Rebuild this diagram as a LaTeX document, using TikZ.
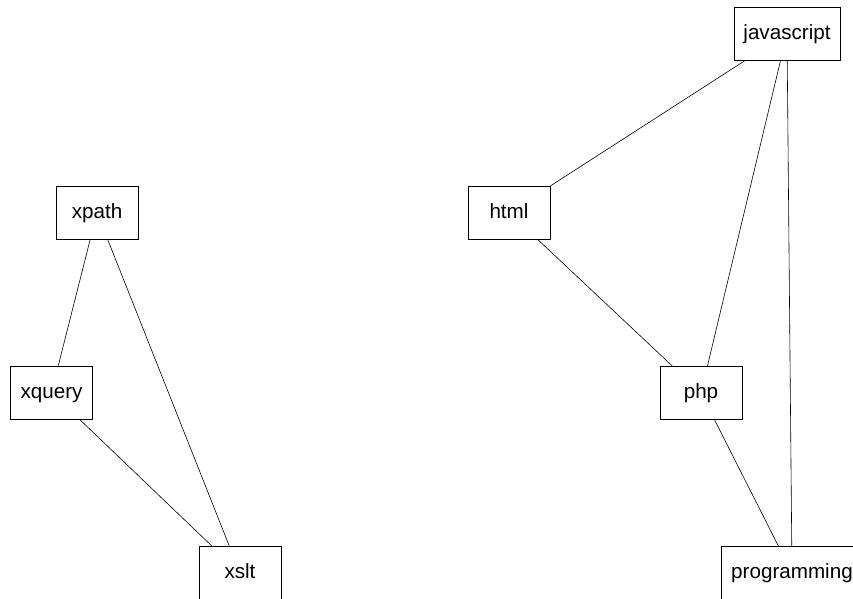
\documentclass[tikz,border=0pt]{standalone}
\usepackage{fontspec}
\setmainfont{Liberation Sans}
\tikzset{
    term/.style={draw, line width=0.6pt, minimum width=2.165cm, minimum height=1.4cm, inner xsep=0.25cm, text height=0.85em, text depth=0pt, font=\fontsize{15.5}{18}\selectfont},
    link/.style={line width=0.45pt}
}
\begin{document}
\begin{tikzpicture}[x=0.0264cm, y=-0.0264cm]
        \useasboundingbox (0,0) rectangle (853,598);

        \node (xpath) at (97, 212.5)[term]{xpath};
        \node (xquery) at (51.5, 392.5)[term]{xquery};
        \node (xslt) at (240, 573)[term]{xslt};

        \node (javascript) at (787, 33.5)[term]{javascript};
        \node (html) at (509, 212.5)[term]{html};
        \node (php) at (701, 393)[term]{php};
        \node (programming) at (792, 573)[term]{programming};

        \draw[link] (xpath) -- (xquery);
        \draw[link] (xpath) -- (xslt);
        \draw[link] (xquery) -- (xslt);

        \draw[link] (javascript) -- (html);
        \draw[link] (javascript) -- (php);
        \draw[link] (javascript) -- (programming);
        \draw[link] (html) -- (php);
        \draw[link] (php) -- (programming);
    \end{tikzpicture}
\end{document}
